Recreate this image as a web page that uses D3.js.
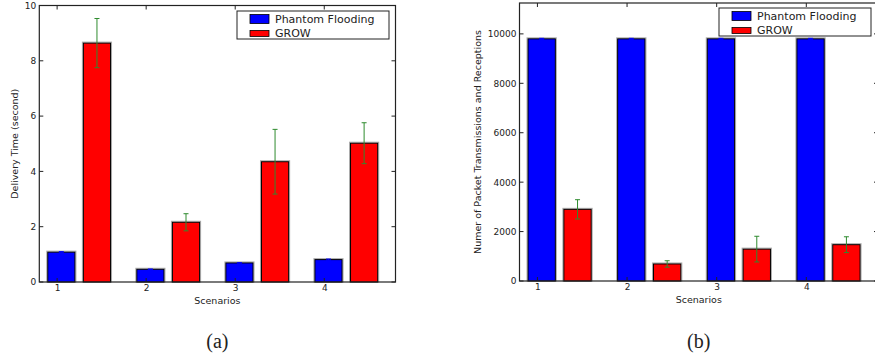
<!DOCTYPE html>
<html>
<head>
<meta charset="utf-8">
<script src="https://cdn.jsdelivr.net/npm/d3@7"></script>
<style>
    body { margin: 0; background: #fff; }
    svg { display: block; }
    text { fill: #222; }
</style>
</head>
<body>
<div id="chart"></div>
<script>
// data
const scenarios = [1, 2, 3, 4];
const seriesNames = ["Phantom Flooding", "GROW"];

const delayFlood = [1.08, 0.46, 0.69, 0.81];
const delayFloodErr = [0.02, 0.01, 0.01, 0.02];
const delayGrow = [8.64, 2.16, 4.35, 5.02];
const delayGrowErr = [0.89, 0.31, 1.17, 0.74];
const delayTicks = [0, 2, 4, 6, 8, 10];

const packetsFlood = [9800, 9800, 9800, 9800];
const packetsFloodErr = [20, 20, 20, 20];
const packetsGrow = [2900, 690, 1290, 1470];
const packetsGrowErr = [390, 130, 520, 320];
const packetTicks = [0, 2000, 4000, 6000, 8000, 10000];

const sans = "DejaVu Sans, sans-serif";


class BarPanel {

    constructor(svg, opts) {
        this.svg = svg;
        this.opts = opts;
        this.initVis();
    }

    initVis() {
        let vis = this;
        let o = vis.opts;

        vis.g = vis.svg.append("g").style("font-family", sans);

        vis.x = d3.scaleLinear().domain([0.8, 4.8]).range([o.left, o.right]);
        vis.y = d3.scaleLinear().domain([0, o.ymax]).range([o.bottom, o.top]);

        // series: blue left of the tick, red to the right
        vis.series = [
            {name: seriesNames[0], values: o.flood, errs: o.floodErr, fill: "#0000ff", ecolor: "#0000ff", offset: -0.105},
            {name: seriesNames[1], values: o.grow, errs: o.growErr, fill: "#ff0000", ecolor: "#2e8b2e", offset: 0.295}
        ];
        vis.barW = 0.305;

        vis.series.forEach(s => {
            let rows = scenarios.map((sc, i) => ({sc: sc, v: s.values[i], e: s.errs[i]}));
            let grp = vis.g.append("g");

            // soft gray halo round each bar
            grp.selectAll(".halo")
                .data(rows)
                .enter().append("rect")
                .attr("x", d => vis.x(d.sc + s.offset) - 1)
                .attr("y", d => vis.y(d.v) - 1)
                .attr("width", d => vis.x(d.sc + s.offset + vis.barW) - vis.x(d.sc + s.offset) + 2)
                .attr("height", d => vis.y(0) - vis.y(d.v) + 1)
                .attr("fill", "none")
                .attr("stroke", "#aaa")
                .attr("stroke-width", 1);

            grp.selectAll(".bar")
                .data(rows)
                .enter().append("rect")
                .attr("x", d => vis.x(d.sc + s.offset))
                .attr("y", d => vis.y(d.v))
                .attr("width", d => vis.x(d.sc + s.offset + vis.barW) - vis.x(d.sc + s.offset))
                .attr("height", d => vis.y(0) - vis.y(d.v))
                .attr("fill", s.fill)
                .attr("stroke", "#000")
                .attr("stroke-width", 1);

            // error bars
            let cx = d => vis.x(d.sc + s.offset + vis.barW / 2);
            let eb = grp.selectAll(".err")
                .data(rows)
                .enter().append("g")
                .attr("stroke", s.ecolor)
                .attr("stroke-width", 1);
            eb.append("line")
                .attr("x1", cx).attr("x2", cx)
                .attr("y1", d => vis.y(d.v + d.e)).attr("y2", d => vis.y(d.v - d.e));
            eb.append("line")
                .attr("x1", d => cx(d) - 2.5).attr("x2", d => cx(d) + 2.5)
                .attr("y1", d => vis.y(d.v + d.e)).attr("y2", d => vis.y(d.v + d.e));
            eb.append("line")
                .attr("x1", d => cx(d) - 2.5).attr("x2", d => cx(d) + 2.5)
                .attr("y1", d => vis.y(d.v - d.e)).attr("y2", d => vis.y(d.v - d.e));
        });

        // frame
        vis.g.append("rect")
            .attr("x", o.left).attr("y", o.top)
            .attr("width", o.right - o.left).attr("height", o.bottom - o.top)
            .attr("fill", "none")
            .attr("stroke", "#222")
            .attr("stroke-width", 1.2);

        // axes with inward ticks, mirrored on top and right
        let tickLen = 4;
        vis.g.append("g")
            .attr("transform", `translate(0,${o.bottom})`)
            .call(d3.axisBottom(vis.x).tickValues(scenarios).tickSize(0).tickPadding(3).tickFormat(d3.format("d")))
            .call(g => g.select(".domain").remove());
        vis.g.append("g")
            .attr("transform", `translate(${o.left},0)`)
            .call(d3.axisLeft(vis.y).tickValues(o.ticks).tickSize(0).tickPadding(3).tickFormat(d3.format("d")))
            .call(g => g.select(".domain").remove());
        vis.g.selectAll(".tick text").attr("font-size", 9).attr("fill", "#222")
            .attr("font-family", sans);

        let tickG = vis.g.append("g").attr("stroke", "#222").attr("stroke-width", 1);
        scenarios.forEach(sc => {
            tickG.append("line").attr("x1", vis.x(sc)).attr("x2", vis.x(sc))
                .attr("y1", o.bottom).attr("y2", o.bottom - tickLen);
            tickG.append("line").attr("x1", vis.x(sc)).attr("x2", vis.x(sc))
                .attr("y1", o.top).attr("y2", o.top + tickLen);
        });
        o.ticks.forEach(t => {
            tickG.append("line").attr("x1", o.left).attr("x2", o.left + tickLen)
                .attr("y1", vis.y(t)).attr("y2", vis.y(t));
            tickG.append("line").attr("x1", o.right).attr("x2", o.right - tickLen)
                .attr("y1", vis.y(t)).attr("y2", vis.y(t));
        });

        // axis titles
        vis.g.append("text")
            .attr("x", (o.left + o.right) / 2)
            .attr("y", o.bottom + 22)
            .attr("text-anchor", "middle")
            .attr("font-size", 9.5)
            .text("Scenarios");
        vis.g.append("text")
            .attr("transform", `translate(${o.ylabelX},${(o.top + o.bottom) / 2}) rotate(-90)`)
            .attr("text-anchor", "middle")
            .attr("dominant-baseline", "middle")
            .attr("font-size", 9.5)
            .text(o.ylabel);

        // legend
        let lg = vis.g.append("g").attr("transform", `translate(${o.legendX},${o.legendY})`);
        lg.append("rect")
            .attr("width", 152).attr("height", 28)
            .attr("fill", "#fff")
            .attr("stroke", "#222")
            .attr("stroke-width", 1);
        vis.series.forEach((s, i) => {
            let cy = 8 + i * 14.5;
            lg.append("rect")
                .attr("x", 13).attr("y", cy - (i === 0 ? 4.5 : 3))
                .attr("width", 19).attr("height", i === 0 ? 9 : 6)
                .attr("fill", s.fill)
                .attr("stroke", "#000")
                .attr("stroke-width", 0.8);
            lg.append("text")
                .attr("x", 38).attr("y", cy)
                .attr("dominant-baseline", "central")
                .attr("font-size", 11)
                .text(s.name);
        });

        // panel caption
        vis.svg.append("text")
            .attr("x", (o.left + o.right) / 2)
            .attr("y", 348)
            .attr("text-anchor", "middle")
            .style("font-family", "'Liberation Serif', 'DejaVu Serif', serif")
            .attr("font-size", 20)
            .text(o.caption);
    }
}

const svg = d3.select("#chart").append("svg")
    .attr("width", 875)
    .attr("height", 358);

svg.append("rect").attr("width", 875).attr("height", 358).attr("fill", "#fff");

new BarPanel(svg, {
    left: 39.3, right: 395.5, top: 5.5, bottom: 282,
    ymax: 10, ticks: delayTicks,
    flood: delayFlood, floodErr: delayFloodErr,
    grow: delayGrow, growErr: delayGrowErr,
    ylabel: "Delivery Time (second)", ylabelX: 15.5,
    legendX: 237, legendY: 11,
    caption: "(a)"
});

new BarPanel(svg, {
    left: 519.5, right: 878, top: 3, bottom: 281,
    ymax: 11250, ticks: packetTicks,
    flood: packetsFlood, floodErr: packetsFloodErr,
    grow: packetsGrow, growErr: packetsGrowErr,
    ylabel: "Numer of Packet Transmissions and Receptions", ylabelX: 478.5,
    legendX: 719, legendY: 8,
    caption: "(b)"
});
</script>
</body>
</html>
